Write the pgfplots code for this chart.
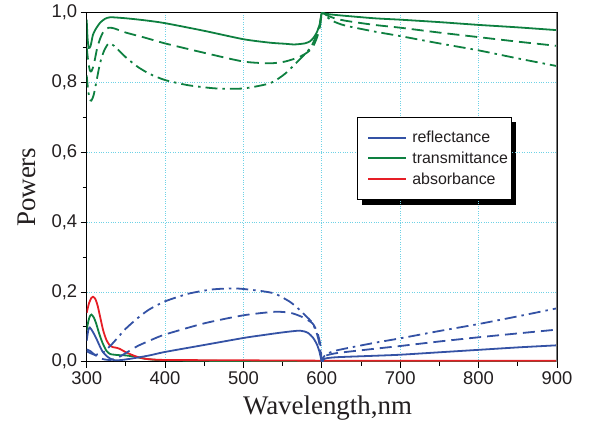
\documentclass[border=0pt]{standalone}
\usepackage{fontspec}
\setmainfont{Liberation Serif}
\newfontfamily\arial{Liberation Sans}
\usepackage{pgfplots}
\pgfplotsset{compat=1.18}
\usetikzlibrary{backgrounds}
\definecolor{rblue}{RGB}{52,82,165}
\definecolor{tgreen}{RGB}{14,128,64}
\definecolor{ared}{RGB}{230,30,38}
\definecolor{gridc}{RGB}{110,210,230}
\definecolor{txt}{RGB}{35,31,32}
\begin{document}
\begin{tikzpicture}
\begin{axis}[
  scale only axis, width=470.3bp, height=349bp,
  xmin=300, xmax=900, ymin=0, ymax=1,
  xtick={300,400,500,600,700,800,900},
  ytick={0,0.2,0.4,0.6,0.8,1},
  minor x tick num=1, minor y tick num=1,
  tick pos=left, tick align=outside,
  major tick length=6bp, minor tick length=4bp,
  tick style={black, line width=0.8bp},
  axis line style={black, line width=0.8bp},
  grid=major, grid style={gridc, dotted, line width=0.8bp},
  ticklabel style={font=\arial\fontsize{18.5}{20}\selectfont, text=txt},
  y tick label style={/pgf/number format/.cd, fixed, fixed zerofill, precision=1, use comma, assume math mode=true, /tikz/.cd},
  x tick label style={/pgf/number format/.cd, set thousands separator={}, assume math mode=true, /tikz/.cd},
  xlabel={Wavelength,nm}, ylabel={Powers},
  label style={font=\fontsize{27}{30}\selectfont, text=txt},
  xlabel style={at={(axis description cs:0.512,-0.134)}, anchor=center},
  ylabel style={at={(axis description cs:-0.128,0.5)}, anchor=center},
  legend style={at={(0.575,0.701)}, anchor=north west, name=legbox,
    font=\arial\fontsize{16}{18}\selectfont, text=txt,
    draw=black, line width=0.8bp, fill=white,
    inner xsep=1bp, inner ysep=12bp, row sep=3.5bp},
  legend cell align=left,
  legend image code/.code={\draw[#1, line width=2bp] (9bp,0bp)--(47bp,0bp); \path (0bp,0bp) (50bp,0bp);},
  every axis plot/.append style={line width=1.8bp, smooth, tension=0.4},
]
\addlegendimage{rblue}\addlegendentry{reflectance}
\addlegendimage{tgreen}\addlegendentry{transmittance}
\addlegendimage{ared}\addlegendentry{absorbance}

% transmittance
\addplot[tgreen, forget plot] coordinates {(300,0.98)(301,0.93)(302.5,0.899)(305,0.905)(308,0.937)(312,0.955)(317,0.971)(323,0.982)(330,0.987)(350,0.984)(375,0.978)(400,0.97)(450,0.948)(500,0.924)(534,0.914)(553,0.911)(565,0.909)(578,0.912)(585,0.918)(590,0.93)(594,0.946)(597,0.965)(599,0.985)(600,1.0)(605,0.997)(620,0.993)(667,0.984)(700,0.98)(750,0.973)(800,0.965)(850,0.958)(900,0.95)};
\addplot[tgreen, forget plot, dash pattern=on 12bp off 6bp] coordinates {(300,0.9)(302,0.86)(304,0.835)(306,0.832)(309,0.85)(313,0.895)(317,0.925)(322,0.948)(328,0.957)(335,0.955)(350,0.943)(375,0.928)(400,0.912)(450,0.885)(500,0.86)(534,0.855)(553,0.86)(570,0.872)(580,0.884)(588,0.9)(594,0.93)(598,0.965)(600,1.0)(605,0.994)(615,0.985)(630,0.977)(667,0.965)(700,0.957)(750,0.943)(800,0.93)(850,0.917)(900,0.905)};
\addplot[tgreen, forget plot, dash pattern=on 12bp off 5bp on 2.5bp off 5bp] coordinates {(300,0.82)(302,0.775)(304,0.752)(306,0.748)(309,0.765)(313,0.81)(317,0.855)(322,0.89)(328,0.912)(335,0.905)(350,0.872)(365,0.845)(380,0.825)(400,0.807)(430,0.792)(465,0.783)(500,0.783)(534,0.798)(553,0.825)(570,0.862)(580,0.885)(587,0.905)(593,0.935)(597,0.965)(600,1.0)(605,0.99)(615,0.975)(630,0.963)(667,0.946)(700,0.933)(750,0.912)(800,0.892)(850,0.869)(900,0.847)};
\addplot[tgreen, forget plot] coordinates {(300,0.09)(302,0.115)(304,0.13)(306,0.135)(309,0.127)(312,0.11)(316,0.08)(320,0.055)(325,0.032)(330,0.022)(340,0.019)(350,0.018)(362,0.014)(376,0.008)(400,0.004)(500,0.002)(900,0.001)};

% absorbance
\addplot[ared, forget plot] coordinates {(300,0.14)(303,0.168)(306,0.183)(308,0.186)(311,0.18)(314,0.16)(317,0.13)(321,0.09)(325,0.063)(329,0.048)(333,0.042)(338,0.04)(342,0.037)(350,0.027)(363,0.015)(376,0.008)(400,0.005)(500,0.004)(600,0.003)(900,0.003)};

% reflectance
\addplot[rblue, forget plot] coordinates {(300,0.06)(302,0.09)(304,0.098)(308,0.085)(312,0.068)(316,0.048)(320,0.03)(325,0.017)(330,0.009)(336,0.004)(345,0.005)(360,0.01)(380,0.018)(400,0.028)(450,0.048)(500,0.068)(521,0.075)(550,0.084)(572,0.089)(582,0.083)(589,0.068)(594,0.048)(597,0.028)(600,0.0)(602,0.006)(606,0.01)(620,0.013)(667,0.017)(700,0.02)(750,0.027)(800,0.034)(850,0.041)(900,0.047)};
\addplot[rblue, forget plot, dash pattern=on 12bp off 6bp] coordinates {(300,0.035)(305,0.03)(310,0.02)(320,0.008)(330,0.005)(340,0.012)(350,0.025)(365,0.045)(383,0.063)(400,0.078)(450,0.11)(500,0.133)(540,0.143)(560,0.14)(575,0.128)(588,0.11)(594,0.085)(598,0.05)(600,0.0)(602,0.01)(606,0.018)(620,0.025)(667,0.037)(700,0.045)(750,0.058)(800,0.07)(836,0.078)(900,0.092)};
\addplot[rblue, forget plot, dash pattern=on 12bp off 5bp on 2.5bp off 5bp] coordinates {(300,0.03)(310,0.02)(320,0.025)(330,0.045)(340,0.07)(350,0.095)(365,0.125)(380,0.15)(400,0.173)(430,0.195)(460,0.207)(490,0.21)(521,0.203)(540,0.195)(559,0.172)(570,0.152)(580,0.13)(587,0.114)(593,0.085)(597,0.05)(600,0.0)(602,0.012)(606,0.022)(620,0.033)(667,0.054)(700,0.067)(750,0.088)(800,0.108)(850,0.13)(900,0.153)};

\coordinate (ll) at (rel axis cs:0,0);
\coordinate (ur) at (rel axis cs:1,1);
\draw[gray, line width=1.4bp] (rel axis cs:1,0)--(rel axis cs:1,1);
\end{axis}
\begin{scope}[on background layer]
\fill[black] ([shift={(5bp,-5bp)}]legbox.south west) rectangle ([shift={(5bp,-5bp)}]legbox.north east);
\end{scope}
\pgfresetboundingbox
\path ([shift={(-86.7bp,-63.3bp)}]ll) rectangle ([shift={(32bp,12.7bp)}]ur);
\end{tikzpicture}
\end{document}
